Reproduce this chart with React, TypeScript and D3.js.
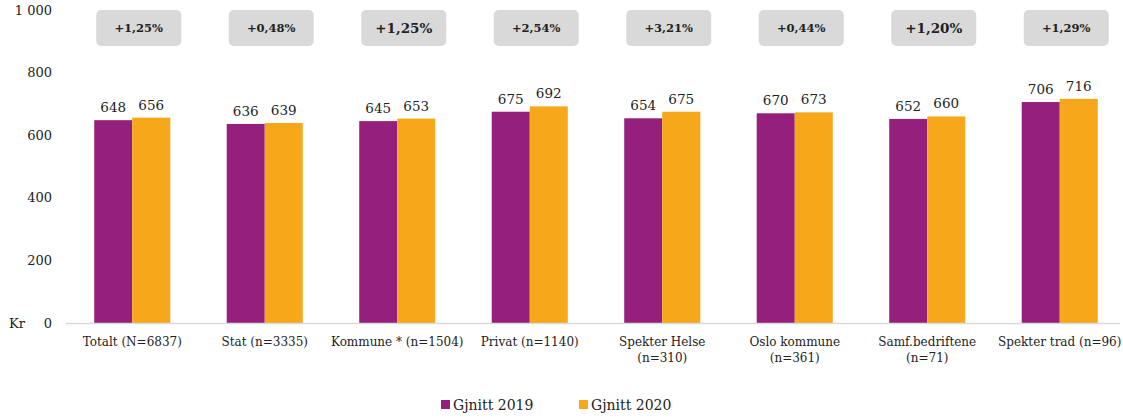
import React from 'react';
import * as d3 from 'd3';

const categories = [
  ['Totalt (N=6837)'],
  ['Stat (n=3335)'],
  ['Kommune * (n=1504)'],
  ['Privat (n=1140)'],
  ['Spekter Helse', '(n=310)'],
  ['Oslo kommune', '(n=361)'],
  ['Samf.bedriftene', '(n=71)'],
  ['Spekter trad (n=96)'],
];
const values2019 = [648, 636, 645, 675, 654, 670, 652, 706];
const values2020 = [656, 639, 653, 692, 675, 673, 660, 716];
const changes = ['+1,25%', '+0,48%', '+1,25%', '+2,54%', '+3,21%', '+0,44%', '+1,20%', '+1,29%'];
const bigChange = [false, false, true, false, false, false, true, false];
const yTicks = [0, 200, 400, 600, 800, 1000];
const seriesNames = ['Gjnitt 2019', 'Gjnitt 2020'];
const seriesColors = ['#951F7D', '#F6A71A'];

const W = 1123;
const H = 419;
const font = '"DejaVu Serif", serif';

export default function App() {
  const x = d3.scaleBand<number>()
    .domain(d3.range(categories.length))
    .range([66, 1126])
    .paddingInner(0.426)
    .paddingOuter(0.213);
  const inner = d3.scaleBand<number>().domain([0, 1]).range([0, x.bandwidth()]);
  const y = d3.scaleLinear().domain([0, 1000]).range([323, 10]);

  return (
    <svg width={W} height={H} style={{ position: 'absolute', left: 0, top: 0, background: '#fff', fontFamily: font }}>
      {yTicks.map(t => (
        <text key={t} x={52} y={y(t)} dy="0.35em" textAnchor="end" fontSize={13} fill="#222">{t === 1000 ? '1 000' : String(t)}</text>
      ))}
      <text x={9} y={y(0)} dy="0.35em" fontSize={13} fill="#222">Kr</text>

      {categories.map((c, i) => {
        const x0 = x(i)!;
        const cx = x0 + x.bandwidth() / 2;
        const vals = [values2019[i], values2020[i]];
        return (
          <g key={i}>
            <rect x={cx - 36} y={10} width={85} height={36} rx={5} fill="#D9D9D9" />
            <text x={cx + 6.5} y={28} dy="0.35em" textAnchor="middle" fontWeight="bold" fontSize={bigChange[i] ? 13.5 : 11.5} fill="#222">{changes[i]}</text>
            {vals.map((v, s) => (
              <g key={s}>
                <rect x={x0 + inner(s)!} y={y(v)} width={inner.bandwidth()} height={y(0) - y(v)} fill={seriesColors[s]} />
                <text x={x0 + inner(s)! + inner.bandwidth() / 2} y={y(v) - 8} textAnchor="middle" fontSize={13.5} fill="#222">{v}</text>
              </g>
            ))}
            {c.map((line, k) => (
              <text key={k} x={cx} y={346 + k * 16} textAnchor="middle" fontSize={12} fill="#222">{line}</text>
            ))}
          </g>
        );
      })}
      <line x1={66} x2={1120} y1={y(0) + 0.5} y2={y(0) + 0.5} stroke="#D9D9D9" strokeWidth={1.5} />

      {seriesNames.map((n, s) => (
        <g key={n} transform={`translate(${441 + s * 138},400)`}>
          <rect width={9} height={9} fill={seriesColors[s]} />
          <text x={12} y={5} dy="0.35em" fontSize={14} fill="#222">{n}</text>
        </g>
      ))}
    </svg>
  );
}
